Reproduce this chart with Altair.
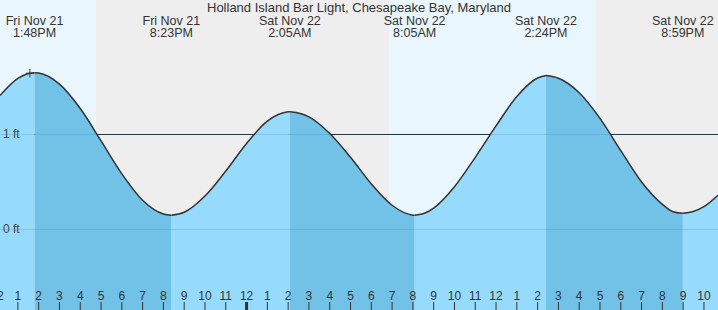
import altair as alt
import pandas as pd

# ---------------- data (hours counted from Fri Nov 21 2025, 00:00) ----------------
BASE = pd.Timestamp("2025-11-21 00:00:00")
view_start = 12.14
view_end = 46.676

title_text = "Holland Island Bar Light, Chesapeake Bay, Maryland"

extreme_hours = [13.8, 20.383, 26.083, 32.083, 38.4, 44.983]
extreme_heights = [1.65, 0.15, 1.24, 0.15, 1.62, 0.17]
extreme_day = ["Fri Nov 21", "Fri Nov 21", "Sat Nov 22", "Sat Nov 22", "Sat Nov 22", "Sat Nov 22"]
extreme_time = ["1:48PM", "8:23PM", "2:05AM", "8:05AM", "2:24PM", "8:59PM"]

reading_hours = [12.14, 13.0, 13.4, 14.0, 15.0, 16.0, 17.0, 18.0, 19.0, 20.0,
                 21.0, 22.0, 23.0, 24.0, 25.0, 26.0,
                 26.583, 27.0, 28.0, 29.0, 30.0, 31.0, 32.0,
                 32.583, 33.0, 34.0, 35.0, 36.0, 37.0, 38.0,
                 39.0, 40.0, 41.0, 42.0, 43.0, 44.0, 44.483,
                 45.483, 46.0, 46.676]
reading_heights = [1.41, 1.59, 1.635, 1.647, 1.530, 1.273, 0.933, 0.586, 0.308, 0.163,
                   0.181, 0.352, 0.615, 0.905, 1.140, 1.239,
                   1.221, 1.185, 1.010, 0.760, 0.480, 0.255, 0.151,
                   0.173, 0.225, 0.450, 0.760, 1.090, 1.400, 1.595,
                   1.592, 1.440, 1.170, 0.830, 0.500, 0.265, 0.190,
                   0.189, 0.240, 0.360]

sun_hours = [12.14, 16.757, 30.85, 40.807, 46.676]
sun_kind = ["day", "night", "day", "night"]

now_hour = 13.58
now_height = 1.645

ft_values = [0, 1]
ft_labels = ["0 ft", "1 ft"]
ref_level = [1]

tick_hours = list(range(12, 47))
tick_labels = [str((h % 12) or 12) for h in tick_hours]

y_domain = [-0.84737, 2.41579]


def iso(h):
    ts = BASE + pd.Timedelta(seconds=round(h * 3600))
    return ts.strftime("%Y-%m-%dT%H:%M:%S")


def dt(h):
    ts = BASE + pd.Timedelta(seconds=round(h * 3600))
    return alt.DateTime(year=ts.year, month=ts.month, date=ts.day,
                        hours=ts.hour, minutes=ts.minute, seconds=ts.second)


# ---------------- tables ----------------
pts = sorted(zip(reading_hours + extreme_hours, reading_heights + extreme_heights))
bounds = [view_start] + extreme_hours + [view_end]
rows = []
for k in range(len(bounds) - 1):
    lo, hi = bounds[k], bounds[k + 1]
    phase = "rise" if k % 2 == 0 else "fall"
    for hh, v in pts:
        if lo - 1e-9 <= hh <= hi + 1e-9:
            rows.append({"t": iso(hh), "h": v, "seg": k, "phase": phase})
curve = pd.DataFrame(rows)
rise = curve[curve.phase == "rise"]
fall = curve[curve.phase == "fall"]

sun = pd.DataFrame({"start": [iso(h) for h in sun_hours[:-1]],
                    "end": [iso(h) for h in sun_hours[1:]],
                    "kind": sun_kind})
day_df = sun[sun.kind == "day"]
night_df = sun[sun.kind == "night"]
ext = pd.DataFrame({"t": [iso(h) for h in extreme_hours],
                    "label": [d + "\n" + t for d, t in zip(extreme_day, extreme_time)]})
now = pd.DataFrame({"t": [iso(now_hour)], "h": [now_height]})
ft = pd.DataFrame({"v": ft_values, "label": ft_labels})
ref = pd.DataFrame({"v": ref_level})
ttl = pd.DataFrame({"title": [title_text]})
ticks = pd.DataFrame({"t": [iso(h) for h in tick_hours], "label": tick_labels,
                      "midnight": [h % 24 == 0 for h in tick_hours]})

FONT = "Liberation Sans"
TXT = "#333333"

xscale = alt.Scale(domain=[dt(view_start), dt(view_end)], nice=False)
yscale = alt.Scale(domain=y_domain, nice=False, zero=False)


def X(field):
    return alt.X(field, type="temporal", scale=xscale, axis=None)


def Y(field):
    return alt.Y(field, type="quantitative", scale=yscale, axis=None)


day_bg = alt.Chart(day_df).mark_rect(color="#eaf6fe").encode(x=X("start"), x2="end:T")
night_bg = alt.Chart(night_df).mark_rect(color="#eeeeee").encode(x=X("start"), x2="end:T")

ref_rule = alt.Chart(ref).mark_rule(color="#222222", strokeWidth=1).encode(y=Y("v"))

rise_area = alt.Chart(rise).mark_area(interpolate="monotone", color="#97dbfc").encode(
    x=X("t"), y=Y("h"), y2=alt.datum(y_domain[0]), detail="seg:N")
fall_area = alt.Chart(fall).mark_area(interpolate="monotone", color="#72c1e6").encode(
    x=X("t"), y=Y("h"), y2=alt.datum(y_domain[0]), detail="seg:N")

grid = alt.Chart(ft).mark_rule(color="#2a7fb0", opacity=0.22, strokeWidth=1).encode(y=Y("v"))

line = alt.Chart(curve).mark_line(interpolate="monotone", color="#333333", strokeWidth=1.5).encode(
    x=X("t"), y=Y("h"), detail="seg:N")

now_mark = alt.Chart(now).mark_point(
    shape="M -1 0 L 1 0 M 0 -1 L 0 1", size=70, filled=False,
    stroke="#333333", strokeWidth=1, opacity=1,
).encode(x=X("t"), y=Y("h"))

ft_text = alt.Chart(ft).mark_text(align="left", baseline="middle", fontSize=12,
                                  font=FONT, color="#444444").encode(
    x=alt.value(3), y=Y("v"), text="label:N")

tick_marks = alt.Chart(ticks).mark_rule(color=TXT).encode(
    x=X("t"), y=alt.value(302), y2=alt.value(310),
    strokeWidth=alt.condition("datum.midnight", alt.value(3), alt.value(1)))
tick_text = alt.Chart(ticks).mark_text(align="center", baseline="alphabetic", fontSize=12,
                                       font=FONT, color=TXT).encode(
    x=X("t"), y=alt.value(299.5), text="label:N")

ext_text = alt.Chart(ext).mark_text(align="center", baseline="alphabetic", fontSize=12.5,
                                    font=FONT, color=TXT, lineBreak="\n", lineHeight=12.5).encode(
    x=X("t"), y=alt.value(24.5), text="label:N")

title = alt.Chart(ttl).mark_text(align="center", baseline="alphabetic", fontSize=13,
                                 font=FONT, color=TXT).encode(
    x=alt.value(359), y=alt.value(11.5), text="title:N")

chart = alt.layer(day_bg, night_bg, ref_rule, rise_area, fall_area, grid, line, now_mark,
                  ft_text, tick_marks, tick_text, ext_text, title).properties(
    width=718, height=310, padding=0, autosize="none",
).configure_view(stroke=None)

chart.save("out.html", embed_options={"renderer": "svg", "actions": False})
